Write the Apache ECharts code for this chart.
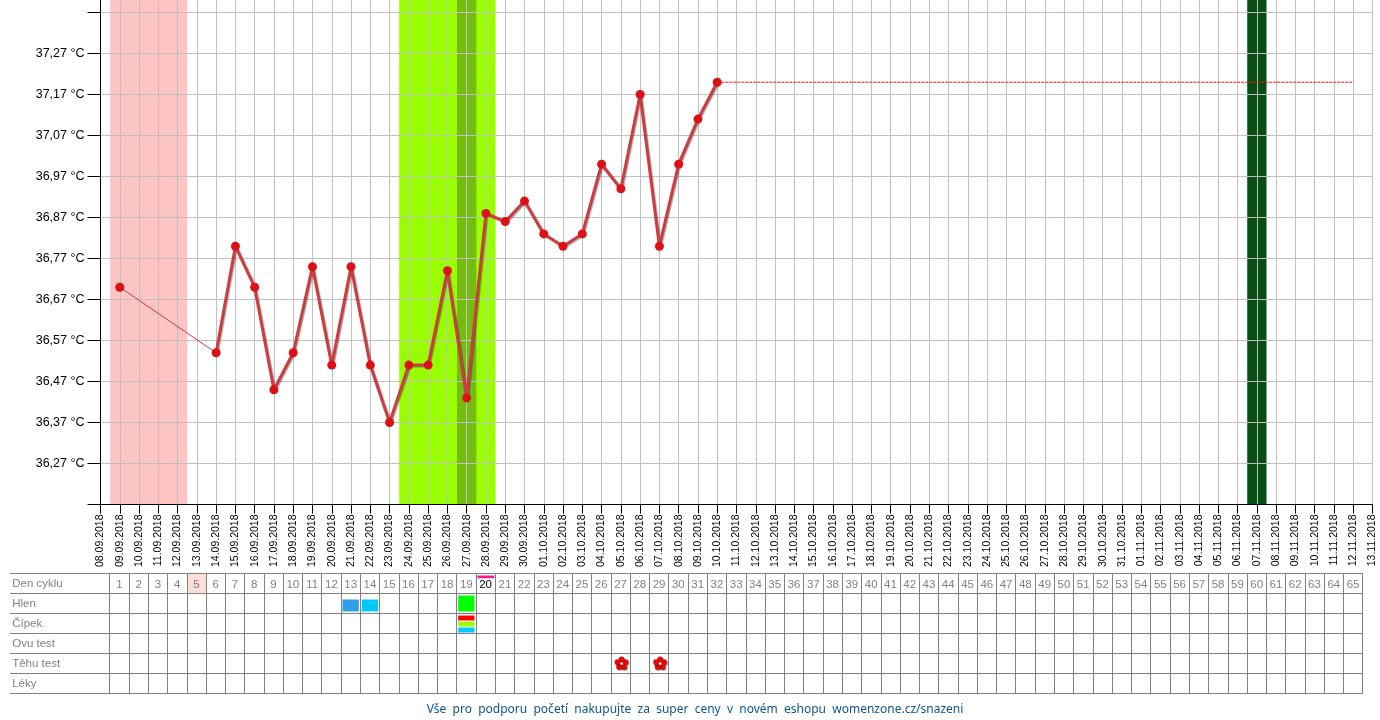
<!DOCTYPE html>
<html>
<head>
<meta charset="utf-8">
<title>Teplotní křivka</title>
<script src="https://cdn.jsdelivr.net/npm/echarts@6/dist/echarts.min.js"></script>
<style>
  html, body { margin: 0; padding: 0; background: #fff; }
  #chart { width: 1380px; height: 720px; }
</style>
</head>
<body>
<div id="chart"></div>
<script>
// popisky osy x, index v poli = pozice na ose
const dateLabels = [
  "08.09.2018", "09.09.2018", "10.09.2018", "11.09.2018", "12.09.2018", "13.09.2018", "14.09.2018",
  "15.09.2018", "16.09.2018", "17.09.2018", "18.09.2018", "19.09.2018", "20.09.2018", "21.09.2018",
  "22.09.2018", "23.09.2018", "24.09.2018", "25.09.2018", "26.09.2018", "27.09.2018", "28.09.2018",
  "29.09.2018", "30.09.2018", "01.10.2018", "02.10.2018", "03.10.2018", "04.10.2018", "05.10.2018",
  "06.10.2018", "07.10.2018", "08.10.2018", "09.10.2018", "10.10.2018", "11.10.2018", "12.10.2018",
  "13.10.2018", "14.10.2018", "15.10.2018", "16.10.2018", "17.10.2018", "18.10.2018", "19.10.2018",
  "20.10.2018", "21.10.2018", "22.10.2018", "23.10.2018", "24.10.2018", "25.10.2018", "26.10.2018",
  "27.10.2018", "28.10.2018", "29.10.2018", "30.10.2018", "31.10.2018", "01.11.2018", "02.11.2018",
  "03.11.2018", "04.11.2018", "05.11.2018", "06.11.2018", "07.11.2018", "08.11.2018", "09.11.2018",
  "10.11.2018", "11.11.2018", "12.11.2018", "13.11.2018"
];
// teploty po dnech cyklu od 09.09., null = nezměřeno
const temperatures = [
  36.70, null, null, null, null, 36.54, 36.80, 36.70, 36.45, 36.54, 36.75, 36.51, 36.75, 36.51,
  36.37, 36.51, 36.51, 36.74, 36.43, 36.88, 36.86, 36.91, 36.83, 36.80, 36.83, 37.00, 36.94,
  37.17, 36.80, 37.00, 37.11, 37.20
];
const yTicks = [36.17, 36.27, 36.37, 36.47, 36.57, 36.67, 36.77, 36.87, 36.97, 37.07, 37.17, 37.27, 37.37];
const yLabelTicks = [36.27, 36.37, 36.47, 36.57, 36.67, 36.77, 36.87, 36.97, 37.07, 37.17, 37.27];
const projectionEndDay = 65;
// pásy: [první den, poslední den]
const periodDays = [1, 4];
const fertileDays = [16, 20];
const ovulationDays = [19, 19];
const dueDays = [60, 60];

const rowLabels = ["Den cyklu", "Hlen", "Čípek", "Ovu test", "Těhu test", "Léky"];
const cycleDays = Array.from({ length: 65 }, (_, i) => String(i + 1));
const highlightedDay = 5;
const currentDay = 20;
const mucusDays = [13, 14, 19];
const cervixDays = [19];
const pregnancyTestDays = [27, 29];
const footerText = "Vše  pro  podporu  početí  nakupujte  za  super  ceny  v  novém  eshopu  womenzone.cz/snazeni";

const FONT = '"Liberation Sans", Arial, sans-serif';
const GRID_GREY = "#c0c0c0";
const TABLE_GREY = "#808080";
const mucusColors = { 13: "#2f9fe8", 14: "#00c8ff", 19: "#00ff00" };
const cervixColors = ["#ff0000", "#99ff00", "#00c8ff"];

const chart = echarts.init(document.getElementById("chart"), null, { renderer: "canvas" });

const band = (days, color) => [
  { xAxis: days[0] - 0.5, itemStyle: { color: color, opacity: 1 } },
  { xAxis: days[1] + 0.5 }
];

// pruhy v tabulce pod grafem
const renderTableMark = (params, api) => {
  const kind = api.value(2);
  const c = api.coord([api.value(0) - 1, api.value(1)]);
  const s = api.size([1, 1]);
  const x = c[0] - s[0] / 2;
  const y = c[1] - s[1] / 2;
  const rect = (l, t, w, h, fill) => ({
    type: "rect",
    shape: { x: x + l, y: y + t, width: w, height: h },
    style: { fill: fill }
  });
  const w = s[0];
  if (kind === "today") return rect(1, 0, w - 1, s[1], "#fddfd9");
  if (kind === "current") return rect(1.5, 2, w - 2.5, 2.7, "#ff1493");
  if (kind === "mucus") {
    const tall = api.value(0) === 19;
    return rect(1.5, tall ? 2 : 6, w - 3, tall ? 16 : 12, mucusColors[api.value(0)]);
  }
  return {
    type: "group",
    children: cervixColors.map((col, i) => rect(1.5, 2 + i * 6, w - 3, 5, col))
  };
};

const renderFlower = (params, api) => {
  const c = api.coord([api.value(0) - 1, api.value(1)]);
  const petals = [];
  for (let i = 0; i < 5; i++) {
    const a = -Math.PI / 2 + (i * 2 * Math.PI) / 5;
    petals.push({
      type: "circle",
      shape: { cx: c[0] + 1 + 4.2 * Math.cos(a), cy: c[1] + 4.2 * Math.sin(a), r: 2.9 },
      style: { fill: "#e00808", shadowColor: "rgba(0,0,0,0.4)", shadowOffsetX: 1, shadowOffsetY: 1 }
    });
  }
  petals.push({ type: "circle", shape: { cx: c[0] + 1, cy: c[1], r: 1 }, style: { fill: "#ffffff" } });
  return { type: "group", children: petals };
};

const option = {
  animation: false,
  backgroundColor: "#ffffff",
  textStyle: { fontFamily: FONT },
  title: {
    text: footerText,
    left: 690,
    top: 699,
    textAlign: "center",
    textStyle: { fontFamily: '"Noto Sans", sans-serif', fontSize: 12, fontWeight: "normal", color: "#0a5590" }
  },
  grid: [
    { left: 100.5, right: 7.5, top: 0, height: 504.5, containLabel: false },
    { left: 109.7, width: 1253, top: 573.5, height: 120, containLabel: false }
  ],
  xAxis: [
    {
      type: "value",
      gridIndex: 0,
      min: 0,
      max: dateLabels.length - 1,
      interval: 1,
      z: 2,
      axisLine: { show: true, lineStyle: { color: "#000", width: 1 } },
      axisTick: { show: true, length: 9, lineStyle: { color: "#000" } },
      splitLine: { show: true, lineStyle: { color: GRID_GREY, width: 1 } },
      axisLabel: {
        show: true,
        rotate: 90,
        margin: 10,
        hideOverlap: false,
        showMinLabel: true,
        showMaxLabel: true,
        fontFamily: FONT,
        fontSize: 10.5,
        color: "#000",
        padding: [1, 0, 0, 0],
        formatter: v => dateLabels[v]
      }
    },
    {
      type: "category",
      gridIndex: 1,
      position: "top",
      data: cycleDays,
      z: 3,
      axisLine: { show: true, lineStyle: { color: TABLE_GREY } },
      axisTick: { show: false },
      splitLine: { show: true, interval: 0, lineStyle: { color: TABLE_GREY } },
      axisLabel: {
        show: true,
        inside: true,
        interval: 0,
        margin: 5,
        fontFamily: FONT,
        fontSize: 11.5,
        color: v => (Number(v) === currentDay ? "#000" : TABLE_GREY)
      }
    }
  ],
  yAxis: [
    {
      type: "value",
      gridIndex: 0,
      min: 36.17,
      max: 37.4005,
      z: 2,
      axisLine: { show: true, lineStyle: { color: "#000" } },
      axisTick: { show: true, length: 13, customValues: yTicks, lineStyle: { color: "#000" } },
      splitLine: { show: true, customValues: yTicks, lineStyle: { color: GRID_GREY } },
      axisLabel: {
        show: true,
        customValues: yLabelTicks,
        margin: 16,
        fontFamily: FONT,
        fontSize: 12.5,
        color: "#000",
        padding: [2, 0, 0, 0],
        formatter: v => v.toFixed(2).replace(".", ",") + " °C"
      }
    },
    {
      type: "category",
      gridIndex: 1,
      inverse: true,
      data: rowLabels,
      z: 3,
      axisLine: { show: true, lineStyle: { color: TABLE_GREY } },
      axisTick: { show: true, length: 99.7, lineStyle: { color: TABLE_GREY } },
      splitLine: { show: true, interval: 0, lineStyle: { color: TABLE_GREY } },
      axisLabel: {
        show: true,
        interval: 0,
        align: "left",
        margin: 97.5,
        fontFamily: FONT,
        fontSize: 11.5,
        color: TABLE_GREY,
        padding: [3, 0, 0, 0]
      }
    }
  ],
  series: [
    {
      // barevné pásy pod mřížkou
      type: "line",
      xAxisIndex: 0,
      yAxisIndex: 0,
      z: 1,
      data: [],
      silent: true,
      markArea: {
        silent: true,
        z: 1,
        data: [
          band(periodDays, "#ffc4c4"),
          band(fertileDays, "#99ff00"),
          band(ovulationDays, "#74bc12"),
          band(dueDays, "#064f12")
        ]
      }
    },
    {
      // spojnice přes nezměřené dny
      type: "line",
      xAxisIndex: 0,
      yAxisIndex: 0,
      z: 3,
      symbol: "none",
      data: [[1, temperatures[0]], [6, temperatures[5]]],
      lineStyle: { color: "#c03c3c", width: 1 }
    },
    {
      // výhled od posledního měření
      type: "line",
      xAxisIndex: 0,
      yAxisIndex: 0,
      z: 3,
      symbol: "none",
      data: [[temperatures.length, temperatures[temperatures.length - 1]], [projectionEndDay, temperatures[temperatures.length - 1]]],
      lineStyle: { color: "#ff1010", width: 1, type: [3, 1] }
    },
    {
      type: "line",
      xAxisIndex: 0,
      yAxisIndex: 0,
      z: 4,
      symbol: "circle",
      symbolSize: 9,
      connectNulls: false,
      showSymbol: true,
      data: temperatures.map((t, i) => [i + 1, t]),
      lineStyle: { color: "#cc3c40", width: 3, shadowColor: "rgba(0,0,0,0.35)", shadowOffsetX: 1, shadowOffsetY: 1, shadowBlur: 1 },
      itemStyle: { color: "#dd1016" }
    },
    {
      type: "custom",
      xAxisIndex: 1,
      yAxisIndex: 1,
      z: 2,
      renderItem: renderTableMark,
      data: [
        [highlightedDay, 0, "today"],
        [currentDay, 0, "current"],
        ...mucusDays.map(d => [d, 1, "mucus"]),
        ...cervixDays.map(d => [d, 2, "cervix"])
      ]
    },
    {
      type: "custom",
      xAxisIndex: 1,
      yAxisIndex: 1,
      z: 4,
      renderItem: renderFlower,
      data: pregnancyTestDays.map(d => [d, 4])
    }
  ]
};

chart.setOption(option);
</script>
</body>
</html>
